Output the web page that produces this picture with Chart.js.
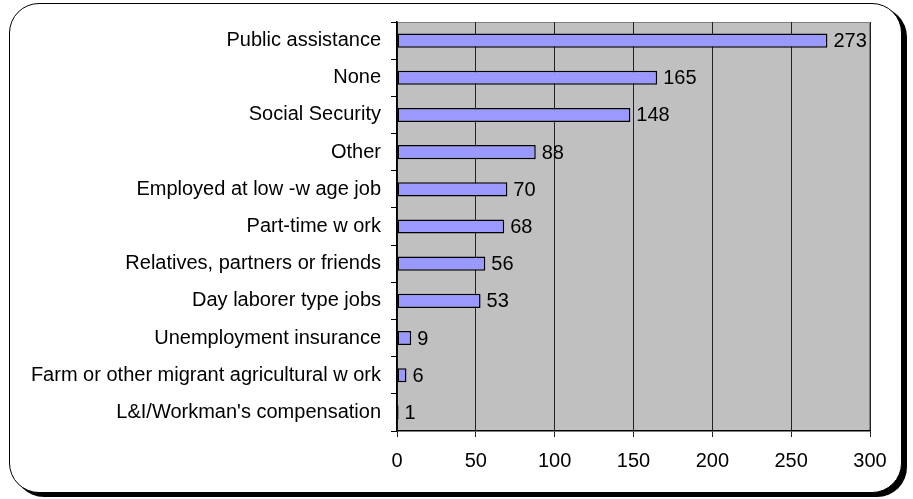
<!DOCTYPE html>
<html>
<head>
<meta charset="utf-8">
<script src="https://cdn.jsdelivr.net/npm/chart.js@4"></script>
<style>
  body { margin: 0; background: #fff; }
  #frame {
    position: absolute; left: 9px; top: 3px; width: 891px; height: 488px;
    border: 1px solid #000; border-radius: 30px; box-shadow: 5px 4px 0 #000;
    background: #fff;
  }
  #wrap { position: absolute; left: 0; top: 0; width: 913px; height: 499px; }
</style>
</head>
<body>
<div id="frame"></div>
<div id="wrap"><canvas id="incomeChart" width="913" height="499"></canvas></div>
<script>
// categories and counts, top to bottom
const categories = [
  'Public assistance',
  'None',
  'Social Security',
  'Other',
  'Employed at low -w age job',
  'Part-time w ork',
  'Relatives, partners or friends',
  'Day laborer type jobs',
  'Unemployment insurance',
  'Farm or other migrant agricultural w ork',
  "L&I/Workman's compensation"
];
const counts = [273, 165, 148, 88, 70, 68, 56, 53, 9, 6, 1];
const xTicks = [0, 50, 100, 150, 200, 250, 300];

const FONT = { family: 'Liberation Sans, Arial, sans-serif', size: 20 };

// grey plot area + border
const plotBg = {
  id: 'plotBg',
  beforeDraw(chart) {
    const { ctx, chartArea: a } = chart;
    ctx.save();
    ctx.fillStyle = '#c0c0c0';
    ctx.fillRect(a.left, a.top, a.right - a.left, a.bottom - a.top);
    ctx.strokeStyle = '#808080';
    ctx.lineWidth = 1;
    ctx.beginPath();
    ctx.moveTo(a.left, a.top + 0.5);
    ctx.lineTo(a.right - 0.5, a.top + 0.5);
    ctx.lineTo(a.right - 0.5, a.bottom);
    ctx.stroke();
    ctx.restore();
  }
};

// value labels at the end of each bar
const valueLabels = {
  id: 'valueLabels',
  afterDatasetsDraw(chart) {
    const { ctx } = chart;
    const meta = chart.getDatasetMeta(0);
    ctx.save();
    ctx.font = FONT.size + 'px ' + FONT.family;
    ctx.fillStyle = '#000';
    ctx.textBaseline = 'middle';
    meta.data.forEach((bar, i) => {
      ctx.fillText(String(counts[i]), bar.x + 6, bar.y + 1);
    });
    ctx.restore();
  }
};

new Chart(document.getElementById('incomeChart'), {
  type: 'bar',
  data: {
    labels: categories,
    datasets: [{
      data: counts,
      backgroundColor: '#9999ff',
      borderColor: '#000',
      borderWidth: 1.5,
      borderSkipped: false,
      barPercentage: 0.38,
      categoryPercentage: 1
    }]
  },
  options: {
    indexAxis: 'y',
    responsive: false,
    animation: false,
    layout: { padding: { left: 0, top: 21, right: 43, bottom: 0 } },
    plugins: { legend: { display: false }, tooltip: { enabled: false } },
    scales: {
      x: {
        min: 0, max: 300,
        afterBuildTicks: s => { s.ticks = xTicks.map(v => ({ value: v })); },
        afterFit: s => { s.height = 499 - 431; },
        grid: { color: '#222', lineWidth: 1, tickLength: 6, drawTicks: true },
        border: { color: '#000', width: 1.5 },
        ticks: { color: '#000', font: FONT, padding: 12 }
      },
      y: {
        afterFit: s => { s.width = 397; },
        grid: { drawOnChartArea: false, color: '#000', tickLength: 6 },
        border: { color: '#000', width: 1.5 },
        ticks: { color: '#000', font: FONT, padding: 10, autoSkip: false }
      }
    }
  },
  plugins: [plotBg, valueLabels]
});
</script>
</body>
</html>
